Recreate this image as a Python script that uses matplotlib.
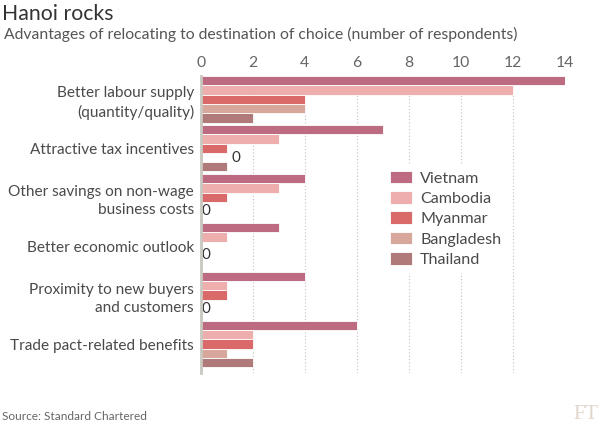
import matplotlib
matplotlib.use("Agg")
import matplotlib.pyplot as plt
import numpy as np

categories = ["Better labour supply\n(quantity/quality)",
              "Attractive tax incentives",
              "Other savings on non-wage\nbusiness costs",
              "Better economic outlook",
              "Proximity to new buyers\nand customers",
              "Trade pact-related benefits"]
series_names = ["Vietnam", "Cambodia", "Myanmar", "Bangladesh", "Thailand"]
vietnam = [14, 7, 4, 3, 4, 6]
cambodia = [12, 3, 3, 1, 1, 2]
myanmar = [4, 1, 1, 0, 1, 2]
bangladesh = [4, 0, 0, 0, 0, 1]
thailand = [2, 1, 0, 0, 0, 2]
xticks = [0, 2, 4, 6, 8, 10, 12, 14]

colors = ["#bd6b80", "#eeaeae", "#da6a69", "#d8a79c", "#b07a7a"]
series = [vietnam, cambodia, myanmar, bangladesh, thailand]

FONT = "Lato"
TXT = "#4a4a4a"
plt.rcParams['font.family'] = [FONT, 'DejaVu Sans']

fig = plt.figure(figsize=(6.01, 4.26), dpi=100)
fig.patch.set_facecolor("white")
ax = fig.add_axes([201/601, 1-373/426, 363.5/601, 297/426])

w = 0.19
y = np.arange(len(categories))
for j, (vals, c, name) in enumerate(zip(series, colors, series_names)):
    ax.barh(y + (j - 2) * w, vals, height=w, color=c, edgecolor="white",
            linewidth=0.6, label=name, zorder=3)

# zero labels
for i in range(len(categories)):
    zeros = [j for j in range(5) if series[j][i] == 0]
    if zeros:
        yy = i + (np.mean(zeros) - 2) * w
        xx = 1.35 if i == 1 else 0.18
        ax.text(xx, yy, "0", ha="center", va="center", fontsize=11,
                color="#333333", zorder=4)

ax.set_ylim(5.59, -0.475)
ax.set_xlim(0, 14)
ax.set_yticks(y)
ax.set_yticklabels(categories, fontsize=11.1, color=TXT, ha="right",
                   linespacing=1.42)
ax.set_xticks(xticks)
ax.set_xticklabels([str(t) for t in xticks], fontsize=11.3, color="#666666")
ax.xaxis.tick_top()
ax.tick_params(axis="x", length=0, pad=4)
ax.tick_params(axis="y", length=0, pad=5)
for s in ["top", "right", "bottom"]:
    ax.spines[s].set_visible(False)
ax.spines["left"].set_color("#c8c8c0")
ax.spines["left"].set_linewidth(2)
ax.spines["left"].set_zorder(5)
ax.grid(axis="x", linestyle=(0, (1, 2)), color="#c0c0c0", linewidth=0.8, zorder=0)
ax.set_axisbelow(True)

leg = ax.legend(loc="upper left", frameon=True,
                fontsize=11.6, handlelength=1.4, handleheight=0.85,
                handletextpad=0.5, labelspacing=0.33, borderpad=0.35,
                borderaxespad=0)
leg.get_frame().set_facecolor("white")
leg.get_frame().set_edgecolor("none")
leg.get_frame().set_alpha(1)
for t in leg.get_texts():
    t.set_color(TXT)
leg.set_zorder(6)
leg.set_bbox_to_anchor((384/601, 1 - 165/426), transform=fig.transFigure)

fig.text(2/601, 1 - 4/426, "Hanoi rocks", fontsize=15.3, color="#333333",
         ha="left", va="top")
fig.text(4/601, 1 - 27/426, "Advantages of relocating to destination of choice (number of respondents)",
         fontsize=11.35, color="#555555", ha="left", va="top")
fig.text(2/601, 1 - 420/426, "Source: Standard Chartered", fontsize=8.6,
         color="#666666", ha="left", va="baseline")
fig.text(598/601, 2/426, "FT", fontsize=15.5, color="#e0d6cc",
         family="Liberation Serif", ha="right", va="bottom")

fig.savefig("out.png", dpi=100, facecolor="white")
